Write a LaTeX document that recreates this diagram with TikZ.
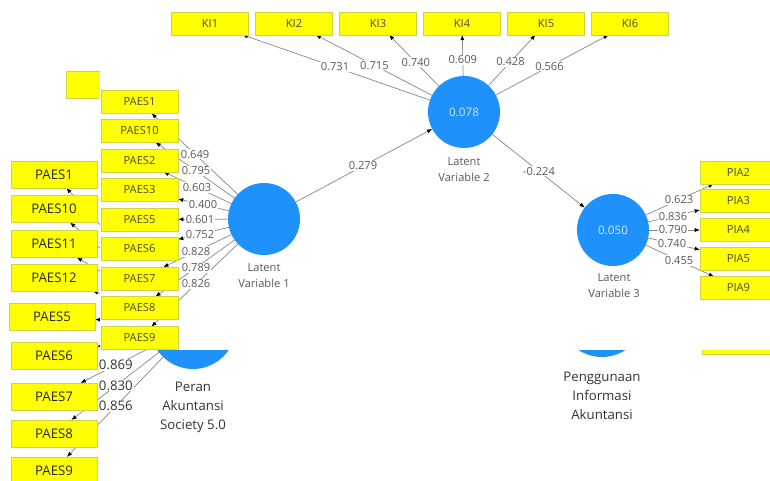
\documentclass[tikz,border=0pt]{standalone}
\usepackage{fontspec}
\setmainfont{Open Sans}
\usetikzlibrary{arrows.meta, calc}

\definecolor{lvblue}{RGB}{30,145,250}
\definecolor{mvyellow}{RGB}{255,255,0}
\definecolor{mvedge}{RGB}{210,210,70}
\definecolor{mvtext}{RGB}{75,75,55}
\definecolor{linkgray}{RGB}{135,135,135}
\definecolor{coeftext}{RGB}{90,90,90}
\definecolor{lvtext}{RGB}{205,228,255}
\definecolor{captext}{RGB}{90,90,90}

\pgfdeclarelayer{backlines}
\pgfdeclarelayer{backnodes}
\pgfdeclarelayer{cover}
\pgfdeclarelayer{frontlines}
\pgfsetlayers{backlines,backnodes,cover,frontlines,main}

\tikzset{
  mv/.style={draw=mvedge, line width=0.5pt, fill=mvyellow, minimum width=2.31cm,
    minimum height=0.68cm, inner sep=0pt, outer sep=0pt, text=mvtext,
    font=\fontsize{9.5}{11}\selectfont},
  mvbig/.style={mv, minimum width=2.58cm, minimum height=0.81cm, text=black!85,
    font=\fontsize{11.3}{13}\selectfont},
  lv/.style={circle, fill=lvblue, minimum size=2.16cm, inner sep=0pt, outer sep=0pt,
    text=lvtext, font=\fontsize{10}{12}\selectfont},
  lvbig/.style={lv, minimum size=2.58cm},
  lvcap/.style={align=center, text=captext, font=\fontsize{9.5}{13.6}\selectfont},
  lvcapbig/.style={align=center, text=black!80, font=\fontsize{11.3}{16.3}\selectfont},
  link/.style={draw=linkgray, line width=0.6pt, -{Latex[length=4.5pt,width=3.5pt,color=black]}},
  coef/.style={fill=white, inner sep=0.8pt, text=coeftext, font=\fontsize{9.5}{11}\selectfont},
  coefbig/.style={coef, text=black!80, font=\fontsize{11.3}{13}\selectfont},
}

\begin{document}
\begin{tikzpicture}[x=0.03cm, y=-0.03cm]
\useasboundingbox (0,0) rectangle (770,481);

% older model, behind
\begin{pgfonlayer}{backnodes}
\node[lvbig] (peran) at (193,326) {};
\node[lvcapbig] (perancap) at (193,407) {Peran\\Akuntansi\\Society 5.0};
\node[lvbig] (piaold) at (602,314) {};
\node[lvcapbig] (piaoldcap) at (602,396) {Penggunaan\\Informasi\\Akuntansi};
\node[mvbig] (oldtop) at (109,85) {};
\node[mvbig] (oldpia) at (745,340.5) {};
\foreach \n/\tx/\x/\y in {q1/PAES1/54/174.5, q10/PAES10/54/209, q11/PAES11/54/244,
    q12/PAES12/54/277.5, q5/PAES5/52/316.5, q6/PAES6/54/356, q7/PAES7/54/396.5,
    q8/PAES8/54/433.5, q9/PAES9/54/470.5}
  \node[mvbig] (\n) at (\x,\y) {\tx};
\end{pgfonlayer}

\begin{pgfonlayer}{backlines}
\fill[white] (0,0) rectangle (770,481);
\foreach \n in {q1,q10,q11,q12,q5,q6,q7,q8,q9}
  \draw[link] (peran) -- (\n);
\foreach \n/\val in {q7/0.869, q8/0.830, q9/0.856}
  \node[coefbig] (c\n) at ($(peran)!0.555!(\n)$) {\val};
\end{pgfonlayer}

% newer model on top
\begin{pgfonlayer}{cover}
\fill[white] (100,0) rectangle (770,350);
\end{pgfonlayer}

\node[lv] (lv1) at (264,219) {};
\node[lvcap] (lv1cap) at (264,276) {Latent\\Variable 1};
\node[lv] (lv2) at (464,112) {0.078};
\node[lvcap] (lv2cap) at (464,170) {Latent\\Variable 2};
\node[lv] (lv3) at (613,230) {0.050};
\node[lvcap] (lv3cap) at (614,286) {Latent\\Variable 3};

\foreach \i in {1,...,6}
  \node[mv] (ki\i) at ({126+84*\i},23.5) {KI\i};
\foreach \n/\tx/\y in {p1/PAES1/102, p10/PAES10/131, p2/PAES2/160.5, p3/PAES3/190,
    p5/PAES5/219.5, p6/PAES6/248.5, p7/PAES7/278.5, p8/PAES8/308, p9/PAES9/338}
  \node[mv] (\n) at (139.5,\y) {\tx};
\foreach \n/\tx/\y in {r2/PIA2/172.5, r3/PIA3/201, r4/PIA4/230, r5/PIA5/258.5, r9/PIA9/288}
  \node[mv] (\n) at (738.5,\y) {\tx};

\begin{pgfonlayer}{frontlines}
\draw[link] (lv1) -- (lv2);
\draw[link] (lv2) -- (lv3);
\foreach \i in {1,...,6}
  \draw[link] (lv2) -- (ki\i);
\foreach \n in {p1,p10,p2,p3,p5,p6,p7,p8,p9}
  \draw[link] (lv1) -- (\n);
\foreach \n in {r2,r3,r4,r5,r9}
  \draw[link] (lv3) -- (\n);

% coefficients
\node[coef] (c12) at ($(lv1)!0.495!(lv2)$) {0.279};
\node[coef] (c23) at ($(lv2)!0.503!(lv3)$) {-0.224};
\foreach \i/\val/\pp in {1/0.731/0.508, 2/0.715/0.527, 3/0.740/0.56, 4/0.609/0.59,
    5/0.428/0.567, 6/0.566/0.515}
  \node[coef] (cki\i) at ($(lv2)!\pp!(ki\i)$) {\val};
\foreach \n/\val/\pp in {p1/0.649/0.554, p10/0.795/0.546, p2/0.603/0.538, p3/0.400/0.49,
    p5/0.601/0.514, p6/0.752/0.514, p7/0.828/0.546, p8/0.789/0.546, p9/0.826/0.546}
  \node[coef] (c\n) at ($(lv1)!\pp!(\n)$) {\val};
\foreach \n/\val/\pp in {r2/0.623/0.526, r3/0.836/0.478, r4/0.790/0.478, r5/0.740/0.47,
    r9/0.455/0.526}
  \node[coef] (c\n) at ($(lv3)!\pp!(\n)$) {\val};
\end{pgfonlayer}
\end{tikzpicture}
\end{document}
